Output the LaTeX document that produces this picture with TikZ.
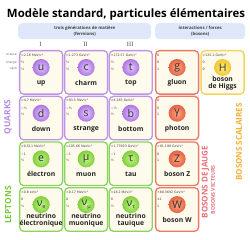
\documentclass[tikz,border=0pt]{standalone}
\usepackage{graphicx}
\usepackage{fontspec}
\setmainfont{Open Sans}
\newfontfamily\dv{DejaVu Sans}
\newfontfamily\rmn{Liberation Serif}
\definecolor{qb}{RGB}{190,148,232}
\definecolor{qi}{RGB}{228,200,252}
\definecolor{qo}{RGB}{172,118,226}
\definecolor{lb}{RGB}{140,212,96}
\definecolor{li}{RGB}{196,242,140}
\definecolor{lo}{RGB}{128,208,58}
\definecolor{gb}{RGB}{232,122,102}
\definecolor{gi}{RGB}{250,168,128}
\definecolor{go}{RGB}{230,98,68}
\definecolor{hb}{RGB}{242,212,96}
\definecolor{hi}{RGB}{255,238,130}
\definecolor{ho}{RGB}{242,198,48}
\definecolor{cream}{RGB}{254,250,236}
\definecolor{hdr}{RGB}{222,232,250}
\definecolor{quarkc}{RGB}{182,140,230}
\definecolor{leptc}{RGB}{122,200,62}
\definecolor{jaugec}{RGB}{232,112,122}
\definecolor{scalc}{RGB}{242,178,52}
\tikzset{
  cellbox/.style={draw, line width=1.3pt, rounded corners=4pt, fill=cream, minimum width=43pt, minimum height=43.5pt, inner sep=0pt, anchor=north west},
  ballnode/.style={circle, minimum size=17pt, inner sep=0pt, font=\fontsize{10.5}{10.5}\selectfont, text=black!80},
  prop/.style={font=\dv\fontsize{3.2}{3.2}\selectfont, inner sep=0pt, anchor=west, text=black!75},
  pname/.style={font=\bfseries\fontsize{6.8}{7.4}\selectfont, inner sep=0pt, align=center, text=black!85},
  hdrbox/.style={fill=hdr, rounded corners=4pt, inner sep=0pt, minimum height=16pt, anchor=north west, align=center, font=\bfseries\fontsize{4.3}{5.6}\selectfont, text=black!75},
  rowlab/.style={font=\dv\fontsize{3.2}{3.2}\selectfont, inner sep=0pt, anchor=east, text=black!55},
  numeral/.style={font=\rmn\fontsize{6.5}{6.5}\selectfont, text=black!70, inner sep=0pt},
  sidelab/.style={font=\bfseries\fontsize{8.4}{8.4}\selectfont, rotate=90, inner sep=0pt}
}
\newcommand\pcell[9]{%
  \node[cellbox, draw=#4b] (#1) at (#2,#3) {};
  \node[prop] at ([xshift=2pt,yshift=-5pt]#1.north west) {#5};
  \node[prop] at ([xshift=2pt,yshift=-12.5pt]#1.north west) {#6};
  \node[prop] at ([xshift=2pt,yshift=-19pt]#1.north west) {#7};
  \node[ballnode, shading=radial, inner color=#4i, outer color=#4o] (#1ball) at ([yshift=-17.5pt]#1.north) {#8};
  \node[pname] (#1name) at ([yshift=-33pt]#1.north) {#9};
}
\newcommand\sbs[2]{#1\raisebox{-0.25em}{\fontsize{5.5}{5.5}\selectfont #2}}
\begin{document}
\begin{tikzpicture}[x=1pt,y=-1pt]
\useasboundingbox[fill=white] (0,0) rectangle (250,240);
\node[font=\bfseries\fontsize{12}{12}\selectfont, inner sep=0pt] (title) at (126,14) {\resizebox{238pt}{!}{Modèle standard, particules élémentaires}};
\node[hdrbox, minimum width=133pt] (fermions) at (18,23) {trois générations de matière\\(fermions)};
\node[hdrbox, minimum width=90pt] (bosons) at (155,23) {interactions / forces\\(bosons)};
\node[numeral] (gI) at (40.5,44) {I};
\node[numeral] (gII) at (85.5,44) {II};
\node[numeral] (gIII) at (130.2,44) {III};
\node[rowlab] (lmasse) at (17,55) {masse};
\node[rowlab] (lcharge) at (17,62.5) {charge};
\node[rowlab] (lspin) at (17,69) {spin};
% row 1
\pcell{up}{19}{50}{q}{≈2.16 MeV/c²}{⅔}{½}{u}{up}
\pcell{charm}{64}{50}{q}{≈1.273 GeV/c²}{⅔}{½}{c}{charm}
\pcell{top}{108.7}{50}{q}{≈172.57 GeV/c²}{⅔}{½}{t}{top}
\pcell{gluon}{155}{50}{g}{0}{0}{1}{g}{gluon}
\pcell{higgs}{200.5}{50}{h}{≈125.2 GeV/c²}{0}{0}{H}{boson\\de Higgs}
% row 2
\pcell{down}{19}{95.7}{q}{≈4.7 MeV/c²}{−⅓}{½}{d}{down}
\pcell{strange}{64}{95.7}{q}{≈93.5 MeV/c²}{−⅓}{½}{s}{strange}
\pcell{bottom}{108.7}{95.7}{q}{≈4.183 GeV/c²}{−⅓}{½}{b}{bottom}
\pcell{photon}{155}{95.7}{g}{0}{0}{1}{γ}{photon}
% row 3
\pcell{electron}{19}{141.4}{l}{≈0.511 MeV/c²}{−1}{½}{e}{électron}
\pcell{muon}{64}{141.4}{l}{≈105.66 MeV/c²}{−1}{½}{μ}{muon}
\pcell{tau}{108.7}{141.4}{l}{≈1.77693 GeV/c²}{−1}{½}{τ}{tau}
\pcell{zboson}{155}{141.4}{g}{≈91.188 GeV/c²}{0}{1}{Z}{boson Z}
% row 4
\pcell{nue}{19}{187.1}{l}{<0.8 eV/c²}{0}{½}{\sbs{ν}{e}}{neutrino\\électronique}
\pcell{numu}{64}{187.1}{l}{<0.17 MeV/c²}{0}{½}{\sbs{ν}{μ}}{neutrino\\muonique}
\pcell{nutau}{108.7}{187.1}{l}{<18.2 MeV/c²}{0}{½}{\sbs{ν}{τ}}{neutrino\\tauique}
\pcell{wboson}{155}{187.1}{g}{≈80.3692 GeV/c²}{±1}{1}{W}{boson W}
% side labels
\node[sidelab, text=quarkc] (quarks) at (8,117) {QUARKS};
\node[sidelab, text=leptc] (leptons) at (8,205) {LEPTONS};
\node[sidelab, text=jaugec, font=\bfseries\fontsize{8}{8}\selectfont] (jauge) at (205.5,182) {BOSONS DE JAUGE};
\node[sidelab, text=jaugec, font=\bfseries\fontsize{5.2}{5.2}\selectfont] (vecteurs) at (213,190) {BOSONS VECTEURS};
\node[sidelab, text=scalc, font=\bfseries\fontsize{8}{8}\selectfont] (scalaires) at (239,142) {BOSONS SCALAIRES};
\end{tikzpicture}
\end{document}
